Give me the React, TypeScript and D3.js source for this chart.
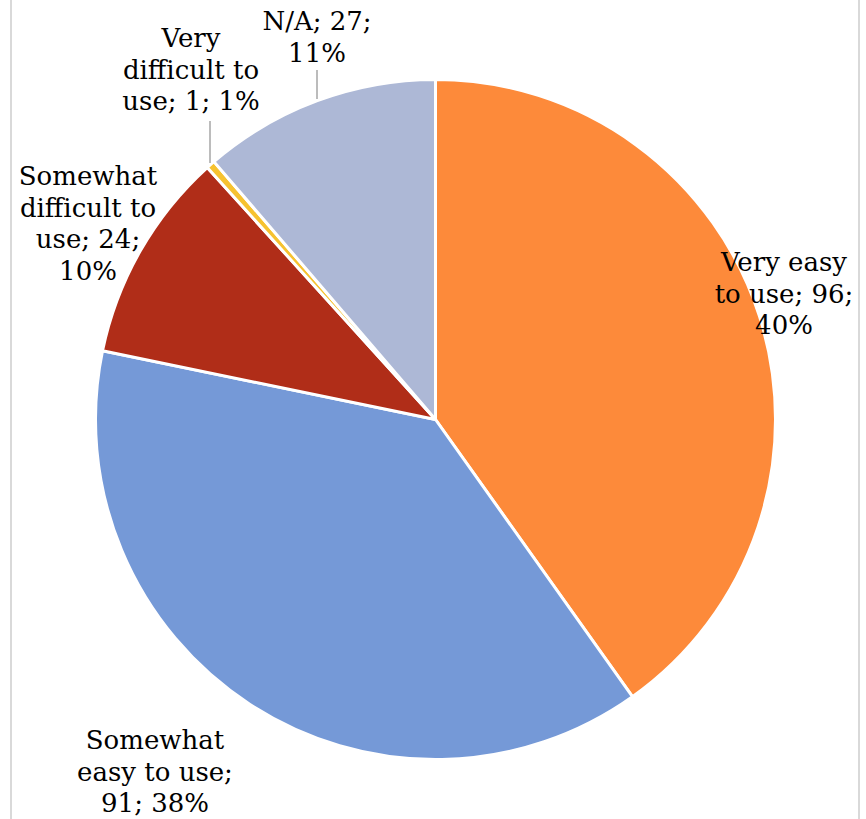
import React from "react";
import * as d3 from "d3";

const categories = [
  "Very easy to use",
  "Somewhat easy to use",
  "Somewhat difficult to use",
  "Very difficult to use",
  "N/A",
];
const counts = [96, 91, 24, 1, 27];
const percents = ["40%", "38%", "10%", "1%", "11%"];
const colors = ["#FD8A3A", "#7599D7", "#B02D18", "#F6C230", "#ADB8D6"];

// label layout (line breaks + anchor positions)
const labelLines = [
  ["Very easy", "to use; 96;", "40%"],
  ["Somewhat", "easy to use;", "91; 38%"],
  ["Somewhat", "difficult to", "use; 24;", "10%"],
  ["Very", "difficult to", "use; 1; 1%"],
  ["N/A; 27;", "11%"],
];
const labelPos = [
  { x: 784, y: 271 },
  { x: 155, y: 749 },
  { x: 88, y: 185 },
  { x: 191, y: 47 },
  { x: 317, y: 30 },
];
const leaders: (null | [number, number, number, number])[] = [
  null,
  null,
  null,
  [210, 121, 210, 163],
  [317, 70, 317, 99],
];

const W = 866;
const H = 819;
const cx = 435.5;
const cy = 419.5;
const R = 340;
const lineH = 31.5;

export default function App() {
  const pie = d3
    .pie<number>()
    .sort(null)
    .value((d) => d)(counts);
  const arc = d3.arc<d3.PieArcDatum<number>>().innerRadius(0).outerRadius(R);

  return (
    <svg
      width={W}
      height={H}
      style={{ position: "absolute", left: 0, top: 0, background: "#fff" }}
    >
      <line x1={11} y1={0} x2={11} y2={H} stroke="#D9D9D9" strokeWidth={2} />
      <line x1={859} y1={0} x2={859} y2={H} stroke="#D9D9D9" strokeWidth={2} />
      <g transform={`translate(${cx},${cy})`}>
        {pie.map((p, i) => (
          <path
            key={categories[i]}
            d={arc(p) || ""}
            fill={colors[i]}
            stroke="#fff"
            strokeWidth={3}
            strokeLinejoin="round"
          />
        ))}
      </g>
      {leaders.map((l, i) =>
        l ? (
          <line
            key={"l" + i}
            x1={l[0]}
            y1={l[1]}
            x2={l[2]}
            y2={l[3]}
            stroke="#A6A6A6"
            strokeWidth={1.5}
          />
        ) : null
      )}
      {labelLines.map((lines, i) => (
        <text
          key={"t" + i}
          x={labelPos[i].x}
          y={labelPos[i].y}
          textAnchor="middle"
          fontFamily="Georgia, 'DejaVu Serif', serif"
          fontSize={26}
          fill="#000"
        >
          {lines.map((ln, j) => (
            <tspan key={j} x={labelPos[i].x} y={labelPos[i].y + j * lineH}>
              {ln}
            </tspan>
          ))}
        </text>
      ))}
    </svg>
  );
}
